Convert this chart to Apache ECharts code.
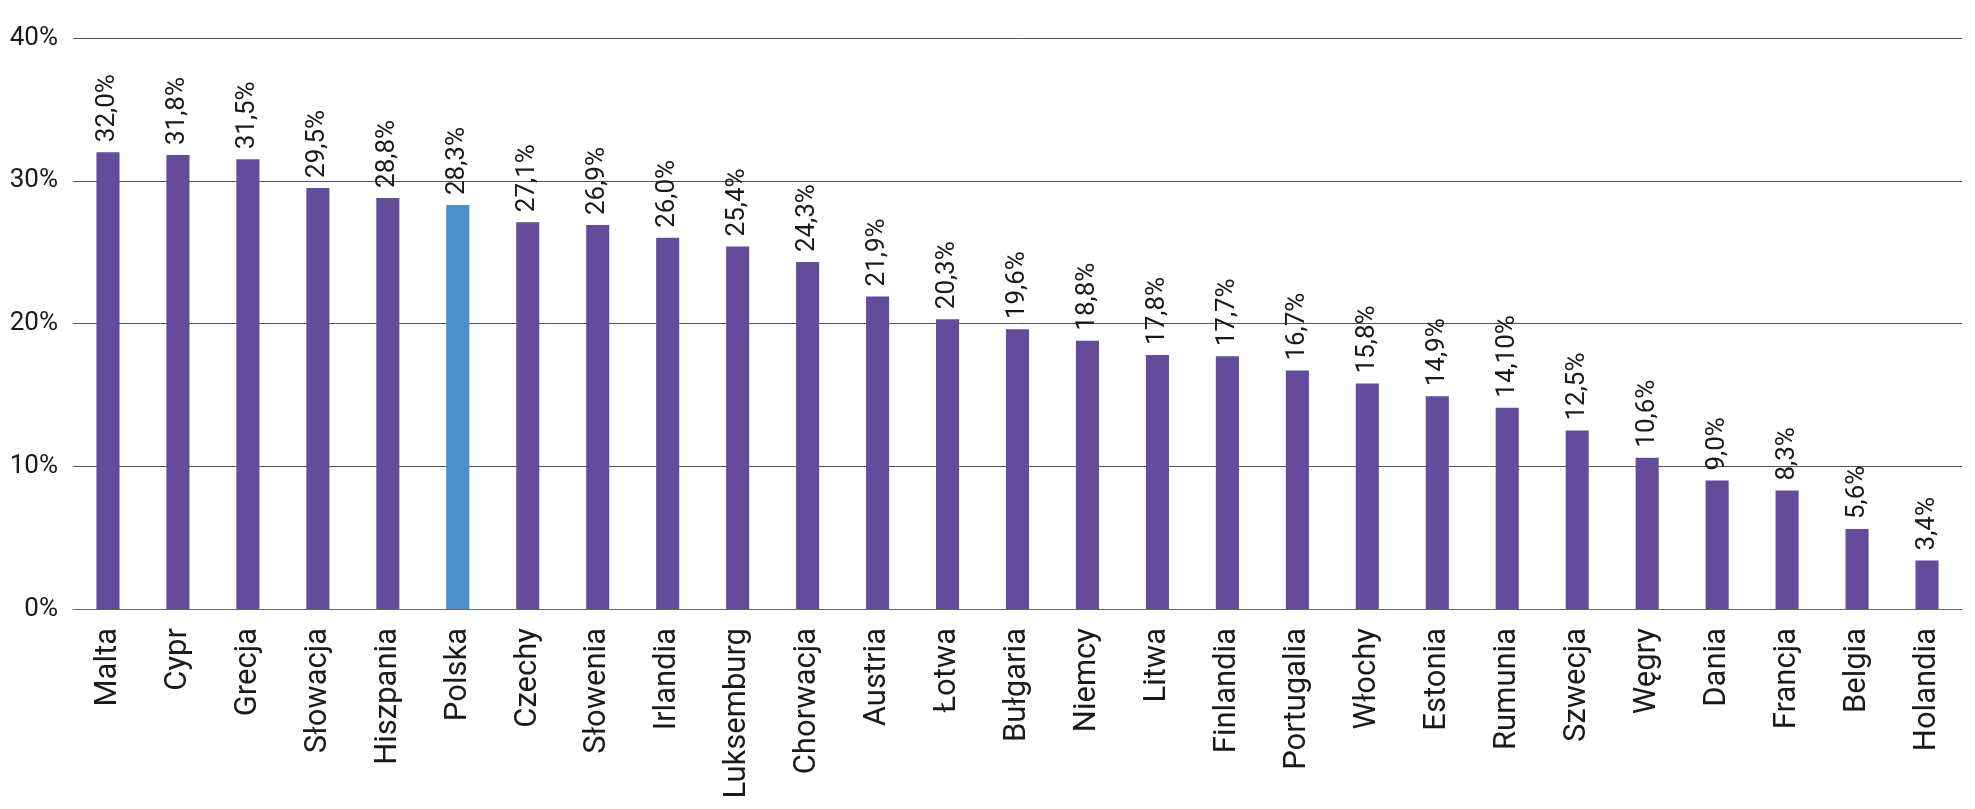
<!DOCTYPE html>
<html lang="pl">
<head>
    <meta charset="UTF-8">
    <title>Wykres słupkowy</title>
    <script src="https://cdn.jsdelivr.net/npm/echarts@6/dist/echarts.min.js"></script>
    <style>
        * { margin: 0; padding: 0; box-sizing: border-box; }
        html, body { width: 1975px; height: 809px; background: #fff; }
        #chart { width: 1975px; height: 809px; }
    </style>
</head>
<body>
    <div id="chart"></div>
    <script>
        // dane
        const countries = ['Malta', 'Cypr', 'Grecja', 'Słowacja', 'Hiszpania', 'Polska', 'Czechy', 'Słowenia',
            'Irlandia', 'Luksemburg', 'Chorwacja', 'Austria', 'Łotwa', 'Bułgaria', 'Niemcy', 'Litwa',
            'Finlandia', 'Portugalia', 'Włochy', 'Estonia', 'Rumunia', 'Szwecja', 'Węgry', 'Dania',
            'Francja', 'Belgia', 'Holandia'];
        const values = [32.0, 31.8, 31.5, 29.5, 28.8, 28.3, 27.1, 26.9, 26.0, 25.4, 24.3, 21.9, 20.3, 19.6,
            18.8, 17.8, 17.7, 16.7, 15.8, 14.9, 14.1, 12.5, 10.6, 9.0, 8.3, 5.6, 3.4];
        const valueLabels = ['32,0%', '31,8%', '31,5%', '29,5%', '28,8%', '28,3%', '27,1%', '26,9%', '26,0%',
            '25,4%', '24,3%', '21,9%', '20,3%', '19,6%', '18,8%', '17,8%', '17,7%', '16,7%', '15,8%',
            '14,9%', '14,10%', '12,5%', '10,6%', '9,0%', '8,3%', '5,6%', '3,4%'];
        const yTicks = ['0%', '10%', '20%', '30%', '40%'];
        const highlighted = 'Polska';

        const chart = echarts.init(document.getElementById('chart'));

        chart.setOption({
            animation: false,
            grid: { left: 73, right: 13, top: 38, bottom: 200, containLabel: false },
            xAxis: {
                type: 'category',
                data: countries,
                axisLine: { lineStyle: { color: '#666', width: 1 } },
                axisTick: { show: false },
                axisLabel: {
                    rotate: 90,
                    interval: 0,
                    margin: 19,
                    fontFamily: 'Roboto',
                    fontSize: 31,
                    color: '#1a1a1a'
                }
            },
            yAxis: {
                type: 'value',
                min: 0,
                max: 40,
                interval: 10,
                axisLine: { show: false },
                axisTick: { show: false },
                splitLine: { lineStyle: { color: '#555', width: 1 } },
                axisLabel: {
                    margin: 15,
                    fontFamily: 'Roboto',
                    fontSize: 26,
                    color: '#1a1a1a',
                    padding: [0, 0, 10, 0],
                    formatter: v => yTicks[v / 10]
                }
            },
            series: [{
                type: 'bar',
                barWidth: '33%',
                data: values.map((v, i) => ({
                    value: v,
                    itemStyle: { color: countries[i] === highlighted ? '#4a8fcb' : '#634c9c' }
                })),
                label: {
                    show: true,
                    position: 'top',
                    rotate: 90,
                    align: 'left',
                    verticalAlign: 'middle',
                    distance: 10,
                    fontFamily: 'Roboto',
                    fontSize: 26,
                    color: '#1a1a1a',
                    formatter: p => valueLabels[p.dataIndex]
                }
            }]
        });
    </script>
</body>
</html>
